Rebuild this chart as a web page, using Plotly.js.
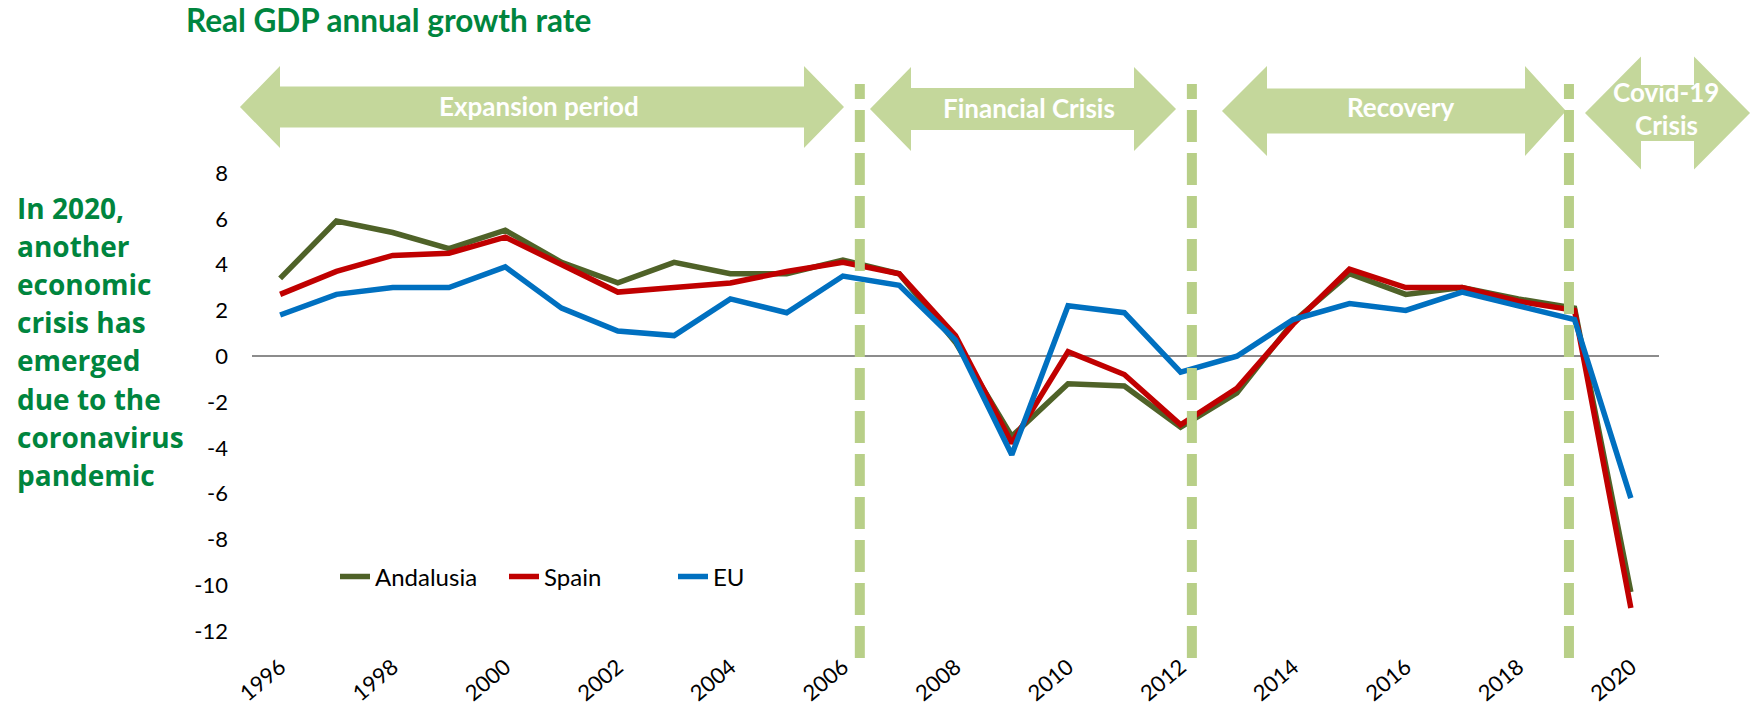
<!DOCTYPE html>
<html>
<head>
<meta charset="utf-8">
<script src="https://cdn.plot.ly/plotly-3.0.1.min.js"></script>
<style>
  html, body { margin: 0; padding: 0; background: #ffffff; }
  #chart { width: 1756px; height: 704px; }
</style>
</head>
<body>
<div id="chart"></div>
<script>
// ---------- data ----------
const years = [1996, 1997, 1998, 1999, 2000, 2001, 2002, 2003, 2004, 2005, 2006, 2007, 2008,
               2009, 2010, 2011, 2012, 2013, 2014, 2015, 2016, 2017, 2018, 2019, 2020];
const andalusia = [3.4, 5.9, 5.4, 4.7, 5.5, 4.1, 3.2, 4.1, 3.6, 3.6, 4.2, 3.6, 0.6,
                   -3.5, -1.2, -1.3, -3.1, -1.6, 1.5, 3.6, 2.7, 3.0, 2.5, 2.1, -10.3];
const spain = [2.7, 3.7, 4.4, 4.5, 5.2, 4.0, 2.8, 3.0, 3.2, 3.7, 4.1, 3.6, 0.9,
               -3.8, 0.2, -0.8, -3.0, -1.4, 1.4, 3.8, 3.0, 3.0, 2.4, 2.0, -11.0];
const eu = [1.8, 2.7, 3.0, 3.0, 3.9, 2.1, 1.1, 0.9, 2.5, 1.9, 3.5, 3.1, 0.7,
            -4.3, 2.2, 1.9, -0.7, 0.0, 1.6, 2.3, 2.0, 2.8, 2.2, 1.6, -6.2];
const seriesNames = ["Andalusia", "Spain", "EU"];
const xTickVals = [1996, 1998, 2000, 2002, 2004, 2006, 2008, 2010, 2012, 2014, 2016, 2018, 2020];
const xTickLabels = ["1996", "1998", "2000", "2002", "2004", "2006", "2008", "2010", "2012", "2014", "2016", "2018", "2020"];
const yTickVals = [-12, -10, -8, -6, -4, -2, 0, 2, 4, 6, 8];
const yTickLabels = ["-12", "-10", "-8", "-6", "-4", "-2", "0", "2", "4", "6", "8"];
const titleText = "Real GDP annual growth rate";
const periodLabels = ["Expansion period", "Financial Crisis", "Recovery", "Covid-19", "Crisis"];
const periodBreaks = [2006.3, 2012.2, 2018.9];
const noteLines = ["In 2020,", "another", "economic", "crisis has", "emerged", "due to the", "coronavirus", "pandemic"];

// ---------- styles ----------
const W = 1756, H = 704;
const M = { l: 252, r: 97, t: 173, b: 73 };
const PW = W - M.l - M.r, PH = H - M.t - M.b;
const xRange = [1995.5, 2020.5];
const yRange = [-12, 8];
const GREEN = "#00853E";
const ARROW = "#C4D79B";
const DASH = "#B8CF88";
const colors = ["#4F6228", "#C00000", "#0070C0"];

const px2x = p => (p - M.l) / PW;
const px2y = p => (H - M.b - p) / PH;
const yr2x = v => (v - xRange[0]) / (xRange[1] - xRange[0]);

function arrowPath(xl, bl, br, xr, yc, hh, sh) {
  const P = [[xl, yc], [bl, yc - hh], [bl, yc - sh], [br, yc - sh], [br, yc - hh], [xr, yc],
             [br, yc + hh], [br, yc + sh], [bl, yc + sh], [bl, yc + hh]];
  return "M" + P.map(p => px2x(p[0]).toFixed(5) + "," + px2y(p[1]).toFixed(5)).join("L") + "Z";
}

const traces = [andalusia, spain, eu].map((vals, i) => ({
  type: "scatter", mode: "lines", x: years, y: vals, name: seriesNames[i],
  line: { color: colors[i], width: 5.5, shape: "linear" },
  hoverinfo: "x+y+name"
}));

const shapes = [];
// arrows
shapes.push({ type: "path", xref: "paper", yref: "paper", layer: "above", line: { width: 0 }, fillcolor: ARROW,
  path: arrowPath(240, 280, 804, 844, 107, 41, 20.5) });
shapes.push({ type: "path", xref: "paper", yref: "paper", layer: "above", line: { width: 0 }, fillcolor: ARROW,
  path: arrowPath(870, 911, 1134, 1176, 109, 42, 21) });
shapes.push({ type: "path", xref: "paper", yref: "paper", layer: "above", line: { width: 0 }, fillcolor: ARROW,
  path: arrowPath(1222, 1267, 1525, 1566, 111, 45, 22.5) });
shapes.push({ type: "path", xref: "paper", yref: "paper", layer: "above", line: { width: 0 }, fillcolor: ARROW,
  path: arrowPath(1585, 1641, 1694, 1750, 113, 56.5, 28) });
// dashed separators
periodBreaks.forEach(b => shapes.push({
  type: "line", xref: "paper", yref: "paper", layer: "above",
  x0: yr2x(b), x1: yr2x(b), y0: px2y(658), y1: px2y(84),
  line: { color: DASH, width: 10, dash: "32px,11px" }
}));

const annotations = [];
const labelFont = { family: "Lato, 'Open Sans', sans-serif", size: 26, color: "#ffffff", weight: 700 };
[[periodLabels[0], 539, 106], [periodLabels[1], 1029, 108], [periodLabels[2], 1400, 107],
 [periodLabels[3], 1666, 92], [periodLabels[4], 1666, 125]].forEach(a => annotations.push({
  xref: "paper", yref: "paper", x: px2x(a[1]), y: px2y(a[2]), xanchor: "center", yanchor: "middle",
  text: "<b>" + a[0] + "</b>", showarrow: false, font: labelFont
}));
const noteY = [208, 246, 284, 322, 360, 399, 437, 475];
noteLines.forEach((t, i) => annotations.push({
  xref: "paper", yref: "paper", x: px2x(15), y: px2y(noteY[i]), xanchor: "left", yanchor: "middle",
  text: "<b>" + t + "</b>", showarrow: false,
  font: { family: "'Open Sans', 'Noto Sans', sans-serif", size: 28, color: GREEN }
}));

const tickFont = { family: "Lato, 'Open Sans', sans-serif", size: 22, color: "#000000" };
const legendFont = { family: "Lato, 'Open Sans', sans-serif", size: 24, color: "#000000" };

const layout = {
  width: W, height: H,
  margin: M,
  paper_bgcolor: "#ffffff", plot_bgcolor: "#ffffff",
  showlegend: true,
  title: {
    text: "<b>" + titleText + "</b>", xref: "container", yref: "container",
    x: 186 / W, xanchor: "left", y: 1 - 21 / H, yanchor: "middle",
    font: { family: "Lato, 'Open Sans', sans-serif", size: 31.5, color: GREEN }
  },
  xaxis: {
    range: xRange, showgrid: false, zeroline: false, showline: false,
    tickmode: "array", tickvals: xTickVals, ticktext: xTickLabels,
    tickangle: -40, ticks: "", ticklabelstandoff: 18, tickfont: tickFont, fixedrange: true
  },
  yaxis: {
    range: yRange, showgrid: false, showline: false,
    zeroline: true, zerolinecolor: "#8C8C8C", zerolinewidth: 2.5,
    tickmode: "array", tickvals: yTickVals, ticktext: yTickLabels,
    ticks: "", ticklabelstandoff: 23, tickfont: tickFont, fixedrange: true
  },
  legend: {
    orientation: "h", x: px2x(335), xanchor: "left", y: px2y(577), yanchor: "middle",
    font: legendFont, bgcolor: "rgba(0,0,0,0)", itemwidth: 30, tracegroupgap: 0,
    entrywidth: 124, entrywidthmode: "pixels"
  },
  shapes: shapes,
  annotations: annotations
};

Plotly.newPlot("chart", traces, layout, { displayModeBar: false, staticPlot: true });
</script>
</body>
</html>
